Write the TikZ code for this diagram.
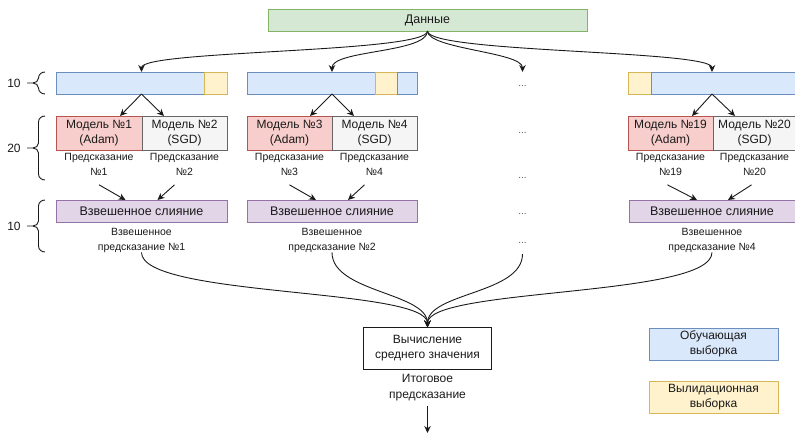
\documentclass[tikz,border=0pt]{standalone}
\usepackage{fontspec}
\setmainfont{Liberation Sans}
\usetikzlibrary{arrows.meta}

\definecolor{ink}{HTML}{1A1A1A}
\definecolor{grnF}{HTML}{D5E8D4}\definecolor{grnD}{HTML}{82B366}
\definecolor{bluF}{HTML}{DAE8FC}\definecolor{bluD}{HTML}{6C8EBF}
\definecolor{yelF}{HTML}{FFF2CC}\definecolor{yelD}{HTML}{D6B656}
\definecolor{redF}{HTML}{F8CECC}\definecolor{redD}{HTML}{B85450}
\definecolor{gryF}{HTML}{F5F5F5}\definecolor{gryD}{HTML}{666666}
\definecolor{purF}{HTML}{E1D5E7}\definecolor{purD}{HTML}{9673A6}

\begin{document}
\begin{tikzpicture}[x=1pt,y=-1pt,
  cell/.style={draw, inner sep=0pt, outer sep=0pt, align=center, line width=0.8pt,
    text=ink, font=\fontsize{12}{15}\selectfont},
  train/.style={cell, fill=bluF, draw=bluD, minimum height=22pt},
  valid/.style={cell, fill=yelF, draw=yelD, minimum height=22pt},
  adam/.style={cell, fill=redF, draw=redD, minimum height=34pt},
  sgd/.style={cell, fill=gryF, draw=gryD, minimum height=34pt},
  fuse/.style={cell, fill=purF, draw=purD, minimum height=22pt, font=\fontsize{12.5}{15}\selectfont},
  slot/.style={inner sep=0pt, outer sep=0pt, minimum height=22pt},
  lbl/.style={inner sep=0pt, align=center, text=ink, font=\fontsize{10.5}{15}\selectfont},
  more/.style={inner sep=0pt, text=ink!75, font=\fontsize{10}{10}\selectfont},
  conn/.style={line width=0.9pt, draw=ink, -{Stealth[length=7pt,width=6.5pt]}},
  brc/.style={line width=0.9pt, draw=ink},
  count/.style={inner sep=0pt, text=ink, font=\fontsize{12}{14}\selectfont}
]
\useasboundingbox (0,0) rectangle (795,434);

% source data
\node[cell, fill=grnF, draw=grnD, minimum width=319pt, minimum height=22pt,
  font=\fontsize{12.5}{15}\selectfont] (data) at (427.5,20) {Данные};

% data splits: training part and validation part
\node[train, minimum width=148pt] (b1) at (130,83) {};
\node[valid, minimum width=23pt] (v1) at (215.5,83) {};
\node[train, minimum width=128pt] (b2a) at (311,83) {};
\node[valid, minimum width=22pt] (v2) at (386,83) {};
\node[train, minimum width=20pt] (b2b) at (407,83) {};
\node[valid, minimum width=23pt] (v4) at (639.5,83) {};
\node[train, minimum width=144pt] (b4) at (723,83) {};
\node[slot, minimum width=171pt] (g1) at (141.5,83) {};
\node[slot, minimum width=170pt] (g2) at (332,83) {};
\node[slot, minimum width=166pt] (g4) at (712,83) {};
\coordinate (g3) at (522.5,72);

% models
\node[adam, minimum width=86pt] (m1) at (99,133) {Модель №1\\(Adam)};
\node[sgd, minimum width=85pt] (m2) at (184.5,133) {Модель №2\\(SGD)};
\node[adam, minimum width=85pt] (m3) at (289.5,133) {Модель №3\\(Adam)};
\node[sgd, minimum width=85pt] (m4) at (374.5,133) {Модель №4\\(SGD)};
\node[adam, minimum width=85pt] (m19) at (670.5,133) {Модель №19\\(Adam)};
\node[sgd, minimum width=83pt] (m20) at (754.5,133) {Модель №20\\(SGD)};

% model outputs
\node[lbl] (p1) at (99,164.5) {Предсказание\\№1};
\node[lbl] (p2) at (184.5,164.5) {Предсказание\\№2};
\node[lbl] (p3) at (289.5,164.5) {Предсказание\\№3};
\node[lbl] (p4) at (374.5,164.5) {Предсказание\\№4};
\node[lbl] (p19) at (670.5,164.5) {Предсказание\\№19};
\node[lbl] (p20) at (754.5,164.5) {Предсказание\\№20};

% weighted fusion
\node[fuse, minimum width=171pt] (f1) at (141.5,211) {Взвешенное слияние};
\node[fuse, minimum width=170pt] (f2) at (332,211) {Взвешенное слияние};
\node[fuse, minimum width=166pt] (f4) at (712,211) {Взвешенное слияние};
\node[lbl] (w1) at (141.5,240) {Взвешенное\\предсказание №1};
\node[lbl] (w2) at (332,240) {Взвешенное\\предсказание №2};
\node[lbl] (w4) at (712,240) {Взвешенное\\предсказание №4};

% omitted groups
\node[more] (d1) at (522.5,86) {...};
\node[more] (d2) at (522.5,133) {...};
\node[more] (d3) at (522.5,178) {...};
\node[more] (d4) at (522.5,214) {...};
\node[more] (d5) at (522.5,243) {...};
\coordinate (s3) at (522.5,254);

% averaging
\node[cell, fill=white, draw=ink, minimum width=128pt, minimum height=42pt] (avg) at (427.5,348.5)
  {Вычисление\\среднего значения};
\node[lbl, font=\fontsize{12}{16}\selectfont] (res) at (427.5,388) {Итоговое\\предсказание};
\coordinate (out) at (427.5,433);

% legend
\node[cell, fill=bluF, draw=bluD, minimum width=129pt, minimum height=32pt] (lgT) at (713.5,344)
  {Обучающая\\выборка};
\node[cell, fill=yelF, draw=yelD, minimum width=129pt, minimum height=32pt] (lgV) at (713.5,397)
  {Вылидационная\\выборка};

% counts with braces
\node[count] (c1) at (14,83) {10};
\node[count] (c2) at (14,148) {20};
\node[count] (c3) at (14,226) {10};
\foreach \ya/\ym/\yb in {72/83/94, 116/148/180, 200/226/252}{
  \draw[brc] (45,\ya) to[out=180,in=90] (38.5,\ya+6) -- (38.5,\ym-5) to[out=-90,in=0] (33,\ym) -- (27,\ym);
  \draw[brc] (45,\yb) to[out=180,in=-90] (38.5,\yb-6) -- (38.5,\ym+5) to[out=90,in=0] (33,\ym);
}

% data to splits
\draw[conn] (data.south) .. controls +(0,22) and +(0,-22) .. (g1.north);
\draw[conn] (data.south) .. controls +(0,22) and +(0,-22) .. (g2.north);
\draw[conn] (data.south) .. controls +(0,18) and +(0,-20) .. (g3);
\draw[conn] (data.south) .. controls +(0,22) and +(0,-22) .. (g4.north);

% splits to models
\draw[conn] (g1.south) -- ([xshift=-22pt]m1.north east);
\draw[conn] (g1.south) -- ([xshift=22pt]m2.north west);
\draw[conn] (g2.south) -- ([xshift=-22pt]m3.north east);
\draw[conn] (g2.south) -- ([xshift=22pt]m4.north west);
\draw[conn] (g4.south) -- ([xshift=-21pt]m19.north east);
\draw[conn] (g4.south) -- ([xshift=22pt]m20.north west);

% predictions to fusion
\draw[conn] ([yshift=-9pt]p1.south) -- ([xshift=-16pt]f1.north);
\draw[conn] ([xshift=-10pt,yshift=-9pt]p2.south) -- ([xshift=16pt]f1.north);
\draw[conn] ([yshift=-9pt]p3.south) -- ([xshift=-16pt]f2.north);
\draw[conn] ([xshift=-10pt,yshift=-9pt]p4.south) -- ([xshift=16pt]f2.north);
\draw[conn] ([xshift=-3pt,yshift=-9pt]p19.south) -- ([xshift=-15pt]f4.north);
\draw[conn] ([xshift=-3pt,yshift=-9pt]p20.south) -- ([xshift=16pt]f4.north);

% fusion results to averaging
\draw[conn] (w1.south) .. controls +(0,45) and +(0,-40) .. (avg.north);
\draw[conn] (w2.south) .. controls +(0,40) and +(0,-35) .. (avg.north);
\draw[conn] (s3) .. controls +(0,40) and +(0,-35) .. (avg.north);
\draw[conn] (w4.south) .. controls +(0,45) and +(0,-40) .. (avg.north);

% final output
\draw[conn] ([yshift=-4pt]res.south) -- (out);
\end{tikzpicture}
\end{document}
